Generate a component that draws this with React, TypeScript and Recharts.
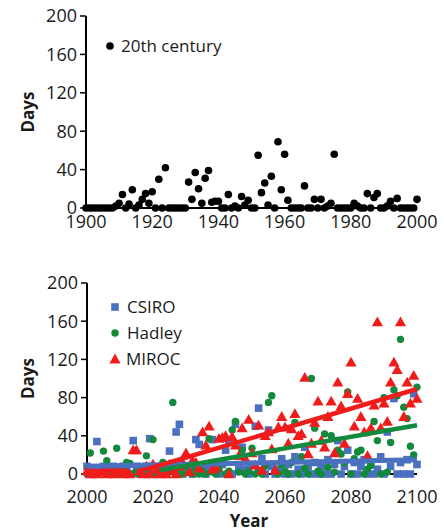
import React from 'react';
import { ScatterChart, Scatter, XAxis, YAxis, Legend } from 'recharts';

// ---------- DATA ----------
const centuryStartYear = 1900;
const centuryDays = [
  0, 0, 0, 0, 0, 0, 0, 0, 0, 2,
  5, 14, 0, 4, 19, 0, 3, 9, 15, 5,
  17, 0, 30, 0, 42, 0, 0, 0, 0, 0,
  0, 27, 9, 37, 20, 5, 31, 39, 6, 7,
  7, 0, 0, 14, 0, 2, 0, 12, 3, 8,
  0, 0, 55, 16, 26, 3, 33, 0, 69, 19,
  56, 8, 0, 0, 0, 0, 23, 0, 0, 9,
  0, 9, 0, 2, 5, 56, 0, 0, 0, 0,
  0, 5, 2, 0, 0, 15, 0, 11, 15, 0,
  0, 2, 7, 0, 10, 0, 0, 0, 0, 0,
  9,
];

const futureStartYear = 2000;
const csiroDays = [
  8, 5, 0, 34, 2, 8, 0, 5, 8, 3,
  0, 8, 5, 0, 35, 8, 0, 5, 8, 37,
  0, 5, 8, 0, 3, 24, 8, 44, 52, 0,
  8, 5, 0, 36, 31, 8, 0, 5, 36, 8,
  0, 10, 25, 35, 0, 52, 8, 28, 5, 0,
  10, 50, 69, 16, 0, 46, 8, 0, 5, 16,
  0, 10, 0, 18, 5, 0, 28, 8, 0, 12,
  0, 8, 0, 15, 0, 10, 35, 0, 8, 25,
  0, 12, 0, 8, 15, 0, 10, 0, 5, 18,
  0, 44, 8, 79, 0, 12, 0, 15, 0, 84,
  10,
];
const hadleyDays = [
  0, 22, 3, 0, 2, 24, 14, 0, 3, 27,
  0, 4, 12, 11, 0, 2, 0, 5, 19, 0,
  36, 0, 3, 12, 0, 2, 75, 0, 4, 0,
  8, 2, 0, 6, 0, 3, 0, 37, 2, 0,
  5, 12, 0, 3, 46, 55, 2, 25, 0, 3,
  27, 0, 4, 0, 8, 75, 82, 2, 0, 10,
  3, 0, 12, 54, 0, 18, 6, 0, 100, 48,
  3, 0, 42, 7, 40, 2, 25, 21, 12, 86,
  0, 16, 23, 25, 0, 5, 9, 55, 35, 0,
  80, 2, 33, 88, 82, 141, 70, 58, 29, 20,
  91,
];
const mirocDays = [
  3, 0, 5, 0, 2, 4, 0, 6, 0, 3,
  5, 0, 2, 0, 25, 25, 3, 0, 8, 0,
  10, 5, 0, 3, 0, 10, 4, 0, 8, 12,
  22, 2, 14, 12, 6, 44, 30, 50, 5, 7,
  37, 38, 40, 0, 39, 30, 19, 48, 16, 57,
  22, 9, 51, 4, 40, 44, 26, 4, 49, 60,
  49, 32, 47, 63, 40, 42, 101, 21, 32, 54,
  76, 35, 28, 60, 76, 22, 96, 71, 32, 84,
  117, 50, 79, 60, 44, 19, 48, 72, 159, 48,
  74, 55, 96, 117, 109, 159, 60, 96, 74, 103,
  79,
];

const csiroTrendYears = [2000, 2100];
const csiroTrendDays = [8, 15];
const hadleyTrendYears = [2022, 2100];
const hadleyTrendDays = [4, 51];
const mirocTrendYears = [2018, 2100];
const mirocTrendDays = [5, 89];

const topXTicks = [1900, 1920, 1940, 1960, 1980, 2000];
const topInnerXTicks = [1950];
const bottomXTicks = [2000, 2020, 2040, 2060, 2080, 2100];
const bottomInnerXTicks = [2020, 2040, 2060, 2080];
const yTicks = [0, 40, 80, 120, 160, 200];
const innerYTicks = [40, 80, 120, 160];

const centuryLabel = '20th century';
const seriesNames = ['CSIRO', 'Hadley', 'MIROC'];

// ---------- STYLE ----------
const FONT = '"Open Sans", "Liberation Sans", sans-serif';
const BLUE = '#4A70C0';
const GREEN = '#13893C';
const RED = '#F01C1C';
const TEXT = '#1a1a1a';

const toPoints = (start: number, vals: number[]) => vals.map((v, i) => ({ x: start + i, y: v }));
const pairPoints = (xs: number[], ys: number[]) => xs.map((x, i) => ({ x, y: ys[i] }));

const centuryData = toPoints(centuryStartYear, centuryDays);
const csiroData = toPoints(futureStartYear, csiroDays);
const hadleyData = toPoints(futureStartYear, hadleyDays);
const mirocData = toPoints(futureStartYear, mirocDays);
const csiroTrend = pairPoints(csiroTrendYears, csiroTrendDays);
const hadleyTrend = pairPoints(hadleyTrendYears, hadleyTrendDays);
const mirocTrend = pairPoints(mirocTrendYears, mirocTrendDays);

const BlackDot = (p: any) => <circle cx={p.cx} cy={p.cy} r={3.8} fill="#000" />;
const GreenDot = (p: any) => <circle cx={p.cx} cy={p.cy} r={3.7} fill={GREEN} />;
const BlueSquare = (p: any) => (
  <rect x={p.cx - 3.8} y={p.cy - 3.8} width={7.6} height={7.6} fill={BLUE} />
);
const RedTri = (p: any) => (
  <polygon
    points={`${p.cx},${p.cy - 5.6} ${p.cx + 5.6},${p.cy + 4.2} ${p.cx - 5.6},${p.cy + 4.2}`}
    fill={RED}
  />
);
const NoShape = () => <g />;

const tickStyle = { fill: TEXT, fontSize: 18, fontFamily: FONT };
const axisLine = { stroke: '#000', strokeWidth: 2 };
const tickLine = { stroke: '#000', strokeWidth: 1.5 };

const DaysLabel = (props: any) => {
  const vb = props.viewBox || {};
  const x = vb.x + 27;
  const y = vb.y + vb.height / 2;
  return (
    <text
      x={x}
      y={y}
      transform={`rotate(-90 ${x} ${y})`}
      textAnchor="middle"
      dominantBaseline="central"
      fontFamily={FONT}
      fontWeight="bold"
      fontSize={17}
      fill={TEXT}
    >
      Days
    </text>
  );
};

const YearLabel = (props: any) => {
  const vb = props.viewBox || {};
  const x = vb.x + vb.width / 2 - 3;
  const y = vb.y + vb.height + 16;
  return (
    <text
      x={x}
      y={y}
      textAnchor="middle"
      dominantBaseline="central"
      fontFamily={FONT}
      fontWeight="bold"
      fontSize={17}
      fill={TEXT}
    >
      Year
    </text>
  );
};

const LegendRow = ({ icon, label, gap }: { icon: React.ReactNode; label: string; gap: number }) => (
  <div style={{ display: 'flex', alignItems: 'center', height: 26 }}>
    <svg width={12} height={12} style={{ display: 'block' }}>
      {icon}
    </svg>
    <span
      style={{
        marginLeft: gap,
        fontFamily: FONT,
        fontSize: 17,
        color: TEXT,
        lineHeight: '26px',
        whiteSpace: 'nowrap',
      }}
    >
      {label}
    </span>
  </div>
);

const TopLegend = () => (
  <div>
    <LegendRow icon={<circle cx={6} cy={6} r={3.8} fill="#000" />} label={centuryLabel} gap={5} />
  </div>
);

const BottomLegend = () => (
  <div>
    <LegendRow icon={<rect x={2.2} y={2.2} width={7.6} height={7.6} fill={BLUE} />} label={seriesNames[0]} gap={6} />
    <LegendRow icon={<circle cx={6} cy={6} r={3.7} fill={GREEN} />} label={seriesNames[1]} gap={6} />
    <LegendRow icon={<polygon points="6,0.6 11.6,10.4 0.4,10.4" fill={RED} />} label={seriesNames[2]} gap={5} />
  </div>
);

export default function App() {
  return (
    <div
      style={{
        position: 'absolute',
        left: 0,
        top: 0,
        width: 444,
        height: 532,
        background: '#fff',
        fontFamily: FONT,
      }}
    >
      <div style={{ position: 'absolute', left: 0, top: 0 }}>
        <ScatterChart width={444} height={240} margin={{ top: 16, right: 27, bottom: 0, left: 0 }}>
          <XAxis
            xAxisId={0}
            type="number"
            dataKey="x"
            domain={[1900, 2000]}
            ticks={topXTicks}
            height={32}
            tickLine={false}
            tickSize={5}
            tickMargin={2}
            axisLine={axisLine}
            tick={tickStyle}
            interval={0}
          />
          <XAxis
            xAxisId="top"
            orientation="top"
            type="number"
            domain={[1900, 2000]}
            ticks={topInnerXTicks}
            mirror
            height={0}
            tick={false}
            tickSize={6}
            tickLine={tickLine}
            axisLine={axisLine}
          />
          <YAxis
            yAxisId={0}
            type="number"
            dataKey="y"
            domain={[0, 200]}
            ticks={yTicks}
            width={86}
            tickSize={6}
            tickMargin={3}
            tickLine={tickLine}
            axisLine={axisLine}
            tick={tickStyle}
            interval={0}
            label={DaysLabel}
          />
          <YAxis
            yAxisId="right"
            orientation="right"
            type="number"
            domain={[0, 200]}
            ticks={innerYTicks}
            mirror
            width={0}
            tick={false}
            tickSize={6}
            tickLine={tickLine}
            axisLine={axisLine}
          />
          <Legend
            layout="vertical"
            align="center"
            verticalAlign="middle"
            wrapperStyle={{ left: 104, top: 33, width: 'auto', height: 'auto' }}
            content={TopLegend}
          />
          <Scatter
            name={centuryLabel}
            data={centuryData}
            xAxisId={0}
            yAxisId={0}
            shape={BlackDot}
            isAnimationActive={false}
          />
        </ScatterChart>
      </div>

      <div style={{ position: 'absolute', left: 0, top: 260 }}>
        <ScatterChart width={444} height={272} margin={{ top: 23, right: 27, bottom: 28, left: 0 }}>
          <XAxis
            xAxisId={0}
            type="number"
            dataKey="x"
            domain={[2000, 2100]}
            ticks={bottomXTicks}
            height={30}
            tickLine={false}
            tickSize={6}
            tickMargin={10}
            axisLine={axisLine}
            tick={tickStyle}
            interval={0}
            label={YearLabel}
          />
          <XAxis
            xAxisId="top"
            orientation="top"
            type="number"
            domain={[2000, 2100]}
            ticks={bottomInnerXTicks}
            mirror
            height={0}
            tick={false}
            tickSize={6}
            tickLine={tickLine}
            axisLine={axisLine}
          />
          <YAxis
            yAxisId={0}
            type="number"
            dataKey="y"
            domain={[0, 200]}
            ticks={yTicks}
            width={87}
            tickSize={6}
            tickMargin={3}
            tickLine={tickLine}
            axisLine={axisLine}
            tick={tickStyle}
            interval={0}
            label={DaysLabel}
          />
          <YAxis
            yAxisId="right"
            orientation="right"
            type="number"
            domain={[0, 200]}
            ticks={innerYTicks}
            mirror
            width={0}
            tick={false}
            tickSize={6}
            tickLine={tickLine}
            axisLine={axisLine}
          />
          <Legend
            layout="vertical"
            align="center"
            verticalAlign="middle"
            wrapperStyle={{ left: 109, top: 34, width: 'auto', height: 'auto' }}
            content={BottomLegend}
          />
          <Scatter name={seriesNames[0]} data={csiroData} shape={BlueSquare} isAnimationActive={false} />
          <Scatter name={seriesNames[1]} data={hadleyData} shape={GreenDot} isAnimationActive={false} />
          <Scatter name={seriesNames[2]} data={mirocData} shape={RedTri} isAnimationActive={false} />
          <Scatter
            data={csiroTrend}
            shape={NoShape}
            line={{ stroke: BLUE, strokeWidth: 5 }}
            legendType="none"
            isAnimationActive={false}
          />
          <Scatter
            data={hadleyTrend}
            shape={NoShape}
            line={{ stroke: GREEN, strokeWidth: 4.5 }}
            legendType="none"
            isAnimationActive={false}
          />
          <Scatter
            data={mirocTrend}
            shape={NoShape}
            line={{ stroke: RED, strokeWidth: 4.5 }}
            legendType="none"
            isAnimationActive={false}
          />
        </ScatterChart>
      </div>
    </div>
  );
}
